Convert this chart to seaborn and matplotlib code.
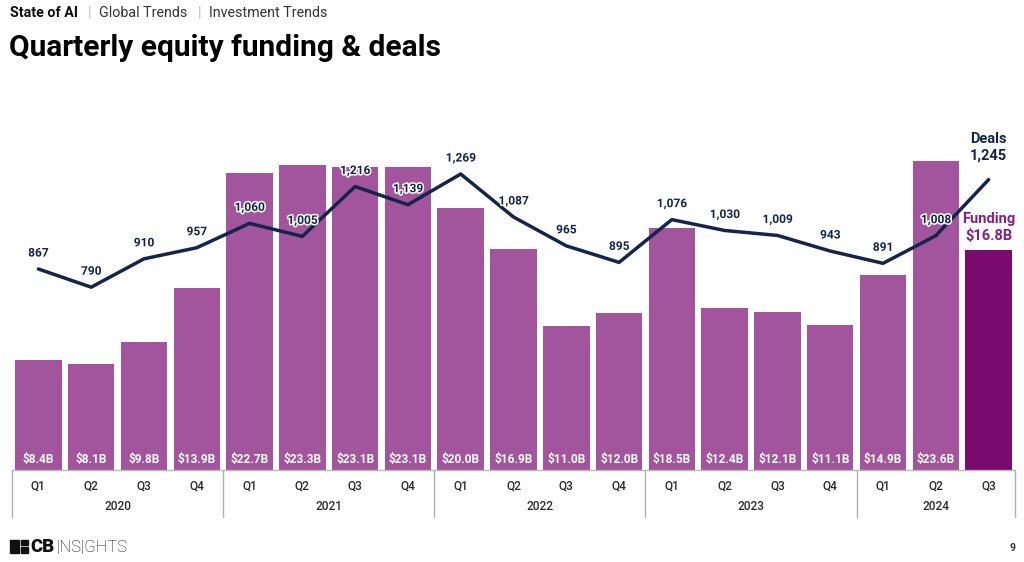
import numpy as np
import pandas as pd
import matplotlib
matplotlib.use("Agg")
import matplotlib.pyplot as plt
import matplotlib.patheffects as pe
from matplotlib.patches import Rectangle
import seaborn as sns

# ---- data ----
years = ["2020", "2021", "2022", "2023", "2024"]
quarters = ["Q1", "Q2", "Q3", "Q4"] * 4 + ["Q1", "Q2", "Q3"]
period_year = ["2020"] * 4 + ["2021"] * 4 + ["2022"] * 4 + ["2023"] * 4 + ["2024"] * 3
funding = [8.4, 8.1, 9.8, 13.9, 22.7, 23.3, 23.1, 23.1, 20.0, 16.9, 11.0, 12.0,
           18.5, 12.4, 12.1, 11.1, 14.9, 23.6, 16.8]
deals = [867, 790, 910, 957, 1060, 1005, 1216, 1139, 1269, 1087, 965, 895,
         1076, 1030, 1009, 943, 891, 1008, 1245]

BAR = "#A2559C"
BAR_LAST = "#7B0A6F"
NAVY = "#14244A"
FUND_TXT = "#8A1D7D"

sns.set_theme(style="white")
plt.rcParams["font.family"] = ["Roboto", "DejaVu Sans"]

periods = [f"{y} {q}" for y, q in zip(period_year, quarters)]
df = pd.DataFrame({"period": periods, "funding": funding, "deals": deals})
n = len(df)
colors = [BAR] * (n - 1) + [BAR_LAST]

fig = plt.figure(figsize=(10.24, 5.62), dpi=100)
W, H = 1024, 562
ax = fig.add_axes([12 / W, 1 - 470 / H, (1015 - 12) / W, (470 - 120) / H])

sns.barplot(data=df, x="period", y="funding", hue="period", palette=colors,
            legend=False, width=0.88, saturation=1, linewidth=0, ax=ax)
ax.set_xlim(-0.5, n - 0.5)
ax.set_ylim(0, 26.72)
ax.set_ylabel("")
ax.set_xlabel("")
ax.set_yticks([])
for s in ["top", "right", "left"]:
    ax.spines[s].set_visible(False)
ax.spines["bottom"].set_color("#B8B8B8")
ax.spines["bottom"].set_linewidth(1.0)

# bar labels
for i, v in enumerate(funding[:-1]):
    ax.annotate(f"${v:.1f}B", xy=(i, 0), xytext=(0, 7.5), textcoords="offset points",
                ha="center", va="center", color="white", fontsize=8.6,
                fontweight="bold")
ax.annotate(f"Funding\n${funding[-1]:.1f}B", xy=(n - 1, funding[-1]), xytext=(0, 5),
            textcoords="offset points", ha="center", va="bottom", color=FUND_TXT,
            fontsize=10.5, fontweight="bold", linespacing=1.25)

# x axis: quarters & years
ax.set_xticks(range(n))
ax.set_xticklabels(quarters, fontsize=8.6, color="#2A2A2A", fontweight="medium")
ax.tick_params(axis="x", length=0, pad=7)
trans = ax.get_xaxis_transform()
bottom_frac = -(517 - 470) / (470 - 120)
year_y = -(507 - 470) / (470 - 120)
start = 0
bounds = [-0.5]
for y in years:
    cnt = period_year.count(y)
    center = start + (cnt - 1) / 2
    ax.text(center, year_y, y, transform=trans, ha="center", va="center",
            fontsize=8.6, color="#2A2A2A", fontweight="medium")
    start += cnt
    bounds.append(start - 0.5)
for b in bounds:
    ax.plot([b, b], [0, bottom_frac], transform=trans, color="#B0B0B0",
            linewidth=1.0, clip_on=False)

# deals line
ax2 = ax.twinx()
sns.lineplot(x=np.arange(n), y=deals, ax=ax2, color=NAVY, linewidth=2.5)
ax2.set_ylim(16.4, 1497.5)
ax2.set_yticks([])
for s in ["top", "right", "left", "bottom"]:
    ax2.spines[s].set_visible(False)
for i, d in enumerate(deals[:-1]):
    ax2.annotate(f"{d:,}", xy=(i, d), xytext=(0, 11.5), textcoords="offset points",
                 ha="center", va="center", color=NAVY, fontsize=8.6,
                 fontweight="bold",
                 path_effects=[pe.withStroke(linewidth=2.2, foreground="white")])
ax2.annotate(f"Deals\n{deals[-1]:,}", xy=(n - 1, deals[-1]), xytext=(0, 12),
             textcoords="offset points", ha="center", va="bottom", color=NAVY,
             fontsize=10.5, fontweight="bold", linespacing=1.25)

# header
def fy(p):
    return 1 - p / H

fig.text(10 / W, fy(13), "State of AI", fontsize=10.3, fontweight="bold",
         color="#111111", va="center", ha="left")
fig.text(88 / W, fy(13), "|", fontsize=10.3, color="#BBBBBB", va="center", ha="left")
fig.text(99 / W, fy(13), "Global Trends", fontsize=10.3, color="#333333",
         va="center", ha="left")
fig.text(198 / W, fy(13), "|", fontsize=10.3, color="#BBBBBB", va="center", ha="left")
fig.text(209 / W, fy(13), "Investment Trends", fontsize=10.3, color="#333333",
         va="center", ha="left")
fig.text(9 / W, fy(55.5), "Quarterly equity funding & deals", fontsize=21.5,
         fontweight="bold", color="#000000", va="baseline", ha="left")

# footer logo
for (x0, y0, w, h) in [(10, 540, 9, 13), (21, 540, 7, 5), (21, 547, 7, 6)]:
    fig.patches.append(Rectangle((x0 / W, fy(y0 + h)), w / W, h / H,
                                 transform=fig.transFigure, color="#111111"))
fig.text(30 / W, fy(547), "CB", fontsize=13.5, fontweight="heavy", color="#111111",
         va="center", ha="left")
fig.text(56 / W, fy(547), "|NS|GHTS", fontsize=12, fontweight="light",
         color="#111111", va="center", ha="left")
fig.text(1013 / W, fy(548), "9", fontsize=7.5, fontweight="bold", color="#333333",
         va="center", ha="center")

fig.savefig("out.png", dpi=100)
